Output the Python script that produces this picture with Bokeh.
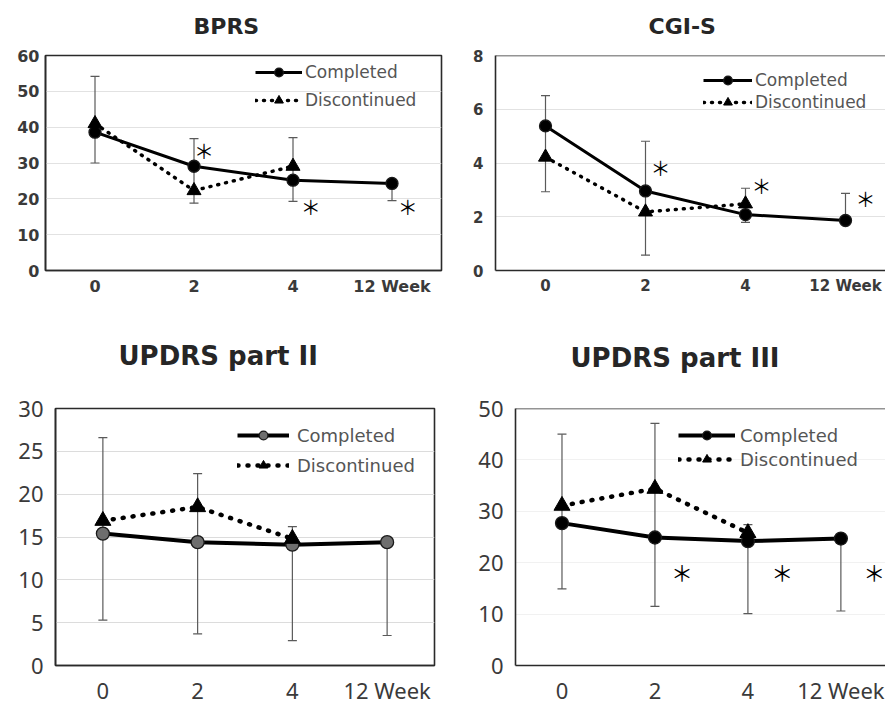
from bokeh.plotting import figure
from bokeh.models import Range1d, FixedTicker, Legend, LegendItem, Span, Title
from bokeh.layouts import column, row
from bokeh.core.properties import value
from bokeh.embed import file_html
from bokeh.resources import INLINE

# ---------------- data ----------------
weeks = ["0", "2", "4", "12 Week"]
series_names = ["Completed", "Discontinued"]

bprs_completed = [38.6, 29.1, 25.2, 24.3]
bprs_discontinued = [41.0, 22.3, 29.1]
bprs_err_low = [30.0, 18.8, 19.3, 19.5]
bprs_err_high = [54.2, 36.8, 37.1, 24.3]
bprs_star_x = [1.1, 2.18, 3.16]
bprs_star_y = [33.4, 17.8, 17.8]

cgis_completed = [5.38, 2.96, 2.08, 1.86]
cgis_discontinued = [4.22, 2.18, 2.48]
cgis_err_low = [2.93, 0.57, 1.79, 1.86]
cgis_err_high = [6.51, 4.81, 3.06, 2.87]
cgis_star_x = [1.15, 2.16, 3.2]
cgis_star_y = [3.84, 3.15, 2.67]

updrs2_completed = [15.4, 14.4, 14.1, 14.4]
updrs2_discontinued = [16.9, 18.5, 14.8]
updrs2_err_low = [5.3, 3.7, 2.9, 3.5]
updrs2_err_high = [26.6, 22.4, 16.2, 14.4]
updrs2_star_x = []
updrs2_star_y = []

updrs3_completed = [27.7, 24.9, 24.2, 24.7]
updrs3_discontinued = [31.1, 34.4, 25.8]
updrs3_err_low = [14.9, 11.5, 10.1, 10.6]
updrs3_err_high = [45.0, 47.1, 27.4, 24.7]
updrs3_star_x = [1.29, 2.37, 3.36]
updrs3_star_y = [18.3, 18.3, 18.3]


def make_panel(title, completed, discontinued, err_low, err_high, star_x, star_y, cfg):
    idx = list(range(len(weeks)))
    p = figure(width=cfg["width"], height=cfg["height"],
               x_range=Range1d(-0.5, cfg["xend"]), y_range=Range1d(0, cfg["ymax"]),
               output_backend="svg", toolbar_location=None,
               min_border_left=cfg["bl"], min_border_right=cfg["br"],
               min_border_top=cfg["bt"], min_border_bottom=cfg["bb"])
    p.background_fill_color = "white"
    p.border_fill_color = "white"
    if cfg["closed"]:
        p.outline_line_color = "#2a2a2a"
        p.outline_line_width = 1.6
    else:
        p.outline_line_color = None
        p.add_layout(Span(location=cfg["ymax"], dimension="width",
                          line_color="#2a2a2a", line_width=1.6))

    # axes
    for ax in (p.xaxis[0], p.yaxis[0]):
        ax.major_tick_out = 0
        ax.major_tick_in = 0
        ax.minor_tick_out = 0
        ax.minor_tick_in = 0
        ax.axis_line_color = "#2a2a2a"
        ax.axis_line_width = 1.6
        ax.major_label_text_color = "#3a3a3a"
        ax.major_label_text_font = cfg["tick_font"]
        ax.major_label_text_font_size = cfg["tick_size"]
        ax.major_label_text_font_style = cfg["tick_style"]
    p.xaxis.ticker = FixedTicker(ticks=idx)
    p.xaxis.major_label_overrides = {i: w for i, w in enumerate(weeks)}
    p.xaxis.major_label_standoff = cfg["xstand"]
    p.yaxis.ticker = FixedTicker(ticks=list(range(0, cfg["ymax"] + 1, cfg["ystep"])))
    p.yaxis.major_label_standoff = cfg["ystand"]
    p.xgrid.grid_line_color = None
    p.ygrid.grid_line_color = cfg["grid"]
    p.ygrid.grid_line_width = 1

    # error bars
    p.segment(x0=idx, y0=err_low, x1=idx, y1=err_high, line_color="#5a5a5a", line_width=1.2)
    p.scatter(x=idx + idx, y=err_low + err_high, marker="dash", size=9,
              line_color="#5a5a5a", line_width=1.2)

    didx = idx[:len(discontinued)]
    l2 = p.line(didx, discontinued, line_color="black", line_width=cfg["dot_w"],
                line_dash=cfg["dot_dash"], line_cap="round")
    l1 = p.line(idx, completed, line_color="black", line_width=cfg["solid_w"])
    s1 = p.scatter(idx, completed, marker="circle", size=cfg["circ"],
                   fill_color=cfg["circ_fill"], line_color="#1a1a1a", line_width=1.3)
    s2 = p.scatter(didx, discontinued, marker="triangle", size=cfg["tri"],
                   fill_color="black", line_color="black")

    if star_x:
        p.text(x=star_x, y=star_y, text=["＊"] * len(star_x),
               text_font=value("Noto Sans CJK JP"), text_font_size=cfg["star_size"],
               text_align="center", text_baseline="middle", text_color="black")

    legend = Legend(items=[LegendItem(label=series_names[0], renderers=[l1, s1]),
                           LegendItem(label=series_names[1], renderers=[l2, s2])],
                    location=cfg["legend_loc"], glyph_width=cfg["gw"], glyph_height=cfg["gh"],
                    spacing=cfg["lspace"], padding=0, margin=0, label_standoff=cfg["lstand"],
                    label_text_font="DejaVu Sans", label_text_font_size=cfg["lsize"],
                    label_text_color="#555555", border_line_color=None,
                    background_fill_alpha=0)
    p.add_layout(legend)

    # spacer between frame and title (first item in "above" sits next to the frame)
    p.add_layout(Title(text=" ", text_font_size="1px", standoff=cfg["gap"],
                       text_color="white"), "above")
    p.add_layout(Title(text=title, align="left", offset=cfg["toff"], standoff=0,
                       text_font=cfg["title_font"], text_font_size=cfg["title_size"],
                       text_font_style="bold", text_color="#262626"), "above")
    return p


top_common = dict(tick_font="DejaVu Sans", tick_style="bold", grid="#e2e2e2",
                  solid_w=3, circ=12, circ_fill="black", tri=14, star_size="20px",
                  title_font="DejaVu Sans", title_size="22px", closed=True,
                  lsize="17px", gh=22, lstand=3, height=300, bt=55, bb=30, xstand=6,
                  gap=14, dot_w=3.5, dot_dash="1 7")

cfg1 = dict(top_common, width=445, bl=45, br=4, xend=3.5, ymax=60, ystep=10,
            tick_size="16px", ystand=6, legend_loc=(210, 159), gw=47,
            lspace=6, toff=148)
cfg2 = dict(top_common, width=440, bl=50, br=0, xend=3.4, ymax=8, ystep=2,
            tick_size="15px", ystand=12, legend_loc=(208, 157), gw=49,
            lspace=0, toff=153, closed=False)

bot_common = dict(tick_font="Noto Sans", tick_style="normal", solid_w=4, circ=13, tri=16,
                  star_size="22px", title_font="DejaVu Sans", title_size="26px",
                  lsize="18px", gh=22, height=407, bt=108, bb=39, xstand=9, ystand=12,
                  tick_size="22px", dot_w=4.5, dot_dash="1 9")

cfg3 = dict(bot_common, width=460, bl=55, br=26, xend=3.5, ymax=30, ystep=5, grid="#dcdcdc",
            circ_fill="#6e6e6e", closed=True, legend_loc=(182, 189), gw=52, lspace=8,
            lstand=8, toff=63, gap=35)
cfg4 = dict(bot_common, width=425, bl=55, br=0, xend=3.48, ymax=50, ystep=10, grid="#f1f1f1",
            circ_fill="black", closed=False, legend_loc=(163, 195), gw=57, lspace=2,
            lstand=5, toff=55, gap=33)

p1 = make_panel("BPRS", bprs_completed, bprs_discontinued, bprs_err_low, bprs_err_high,
                bprs_star_x, bprs_star_y, cfg1)
p2 = make_panel("CGI-S", cgis_completed, cgis_discontinued, cgis_err_low, cgis_err_high,
                cgis_star_x, cgis_star_y, cfg2)
p3 = make_panel("UPDRS part II", updrs2_completed, updrs2_discontinued, updrs2_err_low,
                updrs2_err_high, updrs2_star_x, updrs2_star_y, cfg3)
p4 = make_panel("UPDRS part III", updrs3_completed, updrs3_discontinued, updrs3_err_low,
                updrs3_err_high, updrs3_star_x, updrs3_star_y, cfg4)

layout = column(row(p1, p2), row(p3, p4))
open("out.html", "w").write(file_html(layout, INLINE))
